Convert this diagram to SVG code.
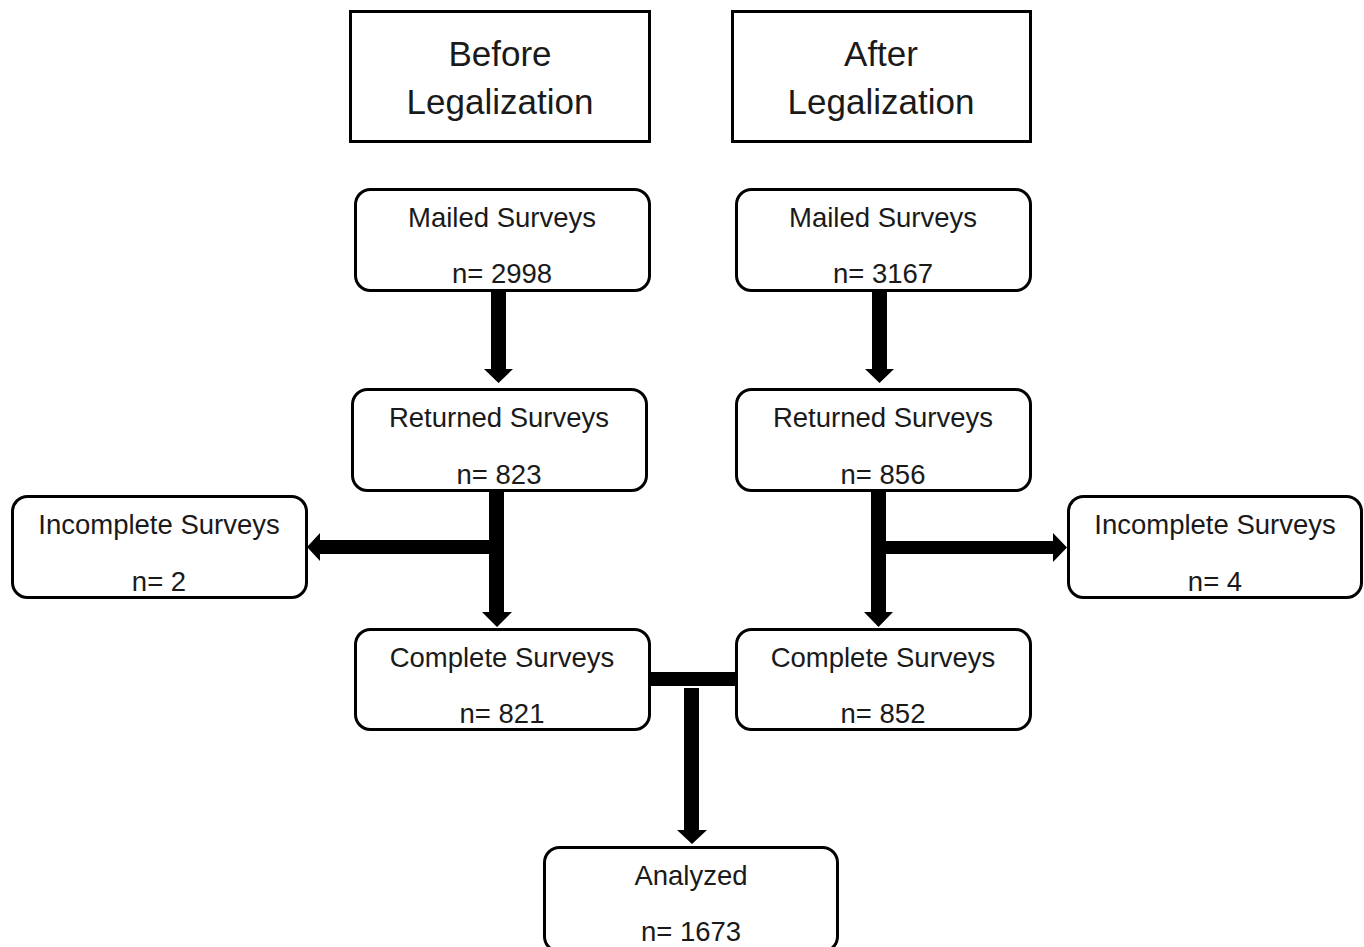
<svg xmlns="http://www.w3.org/2000/svg" width="1364" height="947" viewBox="0 0 1364 947">
<style>
.hdr{fill:#fff;stroke:#000;stroke-width:3}
.box{fill:#fff;stroke:#000;stroke-width:3}
.t{font-family:"Liberation Sans",Arial,sans-serif;font-size:27.5px;fill:#1a1a1a;text-anchor:middle}
.th{font-family:"Liberation Sans",Arial,sans-serif;font-size:35px;fill:#1a1a1a;text-anchor:middle}
.c{fill:#000;stroke:none}
</style>
<rect width="1364" height="947" fill="#fff"/>
<g id="before-header"><rect class="hdr" x="350.5" y="11.5" width="299" height="130"/><text class="th" x="500" y="66">Before</text><text class="th" x="500" y="114">Legalization</text></g>
<g id="after-header"><rect class="hdr" x="732.5" y="11.5" width="298" height="130"/><text class="th" x="881" y="66">After</text><text class="th" x="881" y="114">Legalization</text></g>
<g id="mailed-before"><rect class="box" x="355.5" y="189.5" width="294" height="101" rx="15"/><text class="t" x="502" y="227">Mailed Surveys</text><text class="t" x="502" y="283">n= 2998</text></g>
<g id="mailed-after"><rect class="box" x="736.5" y="189.5" width="294" height="101" rx="15"/><text class="t" x="883" y="227">Mailed Surveys</text><text class="t" x="883" y="283">n= 3167</text></g>
<g id="returned-before"><rect class="box" x="352.5" y="389.5" width="294" height="101" rx="15"/><text class="t" x="499" y="427">Returned Surveys</text><text class="t" x="499" y="484">n= 823</text></g>
<g id="returned-after"><rect class="box" x="736.5" y="389.5" width="294" height="101" rx="15"/><text class="t" x="883" y="427">Returned Surveys</text><text class="t" x="883" y="484">n= 856</text></g>
<g id="incomplete-before"><rect class="box" x="12.5" y="496.5" width="294" height="101" rx="15"/><text class="t" x="159" y="534">Incomplete Surveys</text><text class="t" x="159" y="591">n= 2</text></g>
<g id="incomplete-after"><rect class="box" x="1068.5" y="496.5" width="293" height="101" rx="15"/><text class="t" x="1215" y="534">Incomplete Surveys</text><text class="t" x="1215" y="591">n= 4</text></g>
<g id="complete-before"><rect class="box" x="355.5" y="629.5" width="294" height="100" rx="15"/><text class="t" x="502" y="667">Complete Surveys</text><text class="t" x="502" y="723">n= 821</text></g>
<g id="complete-after"><rect class="box" x="736.5" y="629.5" width="294" height="100" rx="15"/><text class="t" x="883" y="667">Complete Surveys</text><text class="t" x="883" y="723">n= 852</text></g>
<g id="analyzed"><rect class="box" x="544.5" y="847.5" width="293" height="104" rx="15"/><text class="t" x="691" y="885">Analyzed</text><text class="t" x="691" y="941">n= 1673</text></g>
<g id="connectors">
<polygon class="c" points="491,291 506,291 506,369 513,369 498.5,383 484,369 491,369"/>
<polygon class="c" points="872,291 887,291 887,369 894,369 879.5,383 865,369 872,369"/>
<polygon class="c" points="489,491 504,491 504,612 512,612 497,627 482,612 489,612"/>
<polygon class="c" points="489,540 489,554 320,554 320,561 307,547 320,533 320,540"/>
<polygon class="c" points="871,491 886,491 886,612 893,612 878.5,627 864,612 871,612"/>
<polygon class="c" points="886,541 1053,541 1053,533 1067,547.5 1053,562 1053,554 886,554"/>
<rect class="c" x="649" y="672" width="88" height="14"/>
<polygon class="c" points="684,688 699,688 699,830 707,830 692,844 677,830 684,830"/>
</g>
</svg>
